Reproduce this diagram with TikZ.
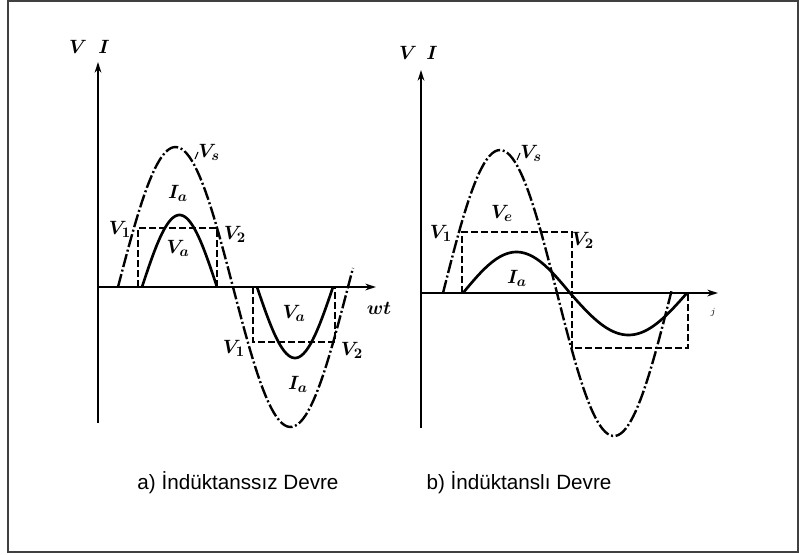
\documentclass[tikz,border=0pt]{standalone}
\usepackage{fontspec}
\setmainfont{Liberation Sans}
\usetikzlibrary{calc, positioning}
\usetikzlibrary{arrows.meta}

\tikzset{
  axisline/.style={line width=1.5pt, -{Stealth[length=8pt,width=5pt]}},
  vsline/.style={line width=1.8pt, dash pattern=on 10pt off 2pt on 1.5pt off 2pt},
  curline/.style={line width=2pt},
  levelline/.style={line width=1.1pt, dash pattern=on 5pt off 2.5pt},
  lbl/.style={font=\fontsize{15.5}{17}\selectfont\boldmath, inner sep=0pt},
  caption/.style={font=\fontsize{15.5}{18}\selectfont, inner sep=0pt}
}

\begin{document}
\begin{tikzpicture}[x=0.75pt,y=-0.75pt]
\useasboundingbox (0,0) rectangle (799,554);
\draw[line width=1pt, black!75] (8,1) rectangle (798,552);

% a) without inductance
\coordinate (Oa) at (98,287);
\coordinate (Ya) at (98,62);
\coordinate (Xa) at (376,287);
\draw[axisline] (98,423) -- (Ya);
\draw[axisline] (Oa) -- (Xa);

\draw[vsline] plot[domain=118:353, samples=90] (\x, {287-140*sin((\x-118)/115*180)});
\draw[curline] plot[domain=142:217, samples=50] (\x, {287-72*sin((\x-142)/75*180)});
\draw[curline] plot[domain=257:333, samples=50] (\x, {287+71*sin((\x-257)/76*180)});

\coordinate (A1) at (138,228);
\coordinate (A2) at (217,228);
\coordinate (A3) at (253,342);
\coordinate (A4) at (335,342);
\draw[levelline] (A1 |- Oa) -- (A1) -- (A2) -- (A2 |- Oa);
\draw[levelline] (A3 |- Oa) -- (A3) -- (A4) -- (A4 |- Oa);

\node[lbl] (va) at (78,47) {$V$};
\node[lbl] (ia) at (104,47) {$I$};
\node[lbl] (wta) at (379,308) {$wt$};
\node[lbl] (vsa) at (209,152) {$V_s$};
\draw[line width=0.8pt] (195,159) -- (vsa.west);
\node[lbl] (iap) at (178,193) {$I_a$};
\node[lbl] (vap) at (178,248) {$V_a$};
\node[lbl] (v1a) at (120,229) {$V_1$};
\node[lbl] (v2a) at (235,234) {$V_2$};
\node[lbl] (van) at (294,313) {$V_a$};
\node[lbl] (v1an) at (234,348) {$V_1$};
\node[lbl] (v2an) at (352,350) {$V_2$};
\node[lbl] (ian) at (298,384) {$I_a$};

% b) with inductance
\coordinate (Ob) at (421,293);
\coordinate (Yb) at (421,70);
\coordinate (Xb) at (718,293);
\draw[axisline] (421,428) -- (Yb);
\draw[axisline] (Ob) -- (Xb);

\draw[vsline] plot[domain=443:672, samples=90] (\x, {293-143*sin((\x-443)/114*180)});
\draw[curline] plot[domain=463:570, samples=50] (\x, {293-41*sin((\x-463)/107*180)})
  -- plot[domain=570:687, samples=50] (\x, {293+42*sin((\x-570)/117*180)});

\coordinate (B1) at (462,232);
\coordinate (B2) at (572,232);
\coordinate (B3) at (572,348);
\coordinate (B4) at (688,348);
\draw[levelline] (B1 |- Ob) -- (B1) -- (B2) -- (B3) -- (B4) -- (B4 |- Ob);

\node[lbl] (vb) at (408,53) {$V$};
\node[lbl] (ib) at (432,53) {$I$};
\node[lbl, font=\fontsize{7}{8}\selectfont] (wtb) at (713,312) {$j$};
\node[lbl] (vsb) at (531,153) {$V_s$};
\draw[line width=0.8pt] (517,160) -- (vsb.west);
\node[lbl] (veb) at (502,213) {$V_e$};
\node[lbl] (v1b) at (441,233) {$V_1$};
\node[lbl] (v2b) at (583,240) {$V_2$};
\node[lbl] (iab) at (517,278) {$I_a$};

\node[caption] (capa) at (238,483) {a) İndüktanssız Devre};
\node[caption] (capb) at (519,483) {b) İndüktanslı Devre};
\end{tikzpicture}
\end{document}
